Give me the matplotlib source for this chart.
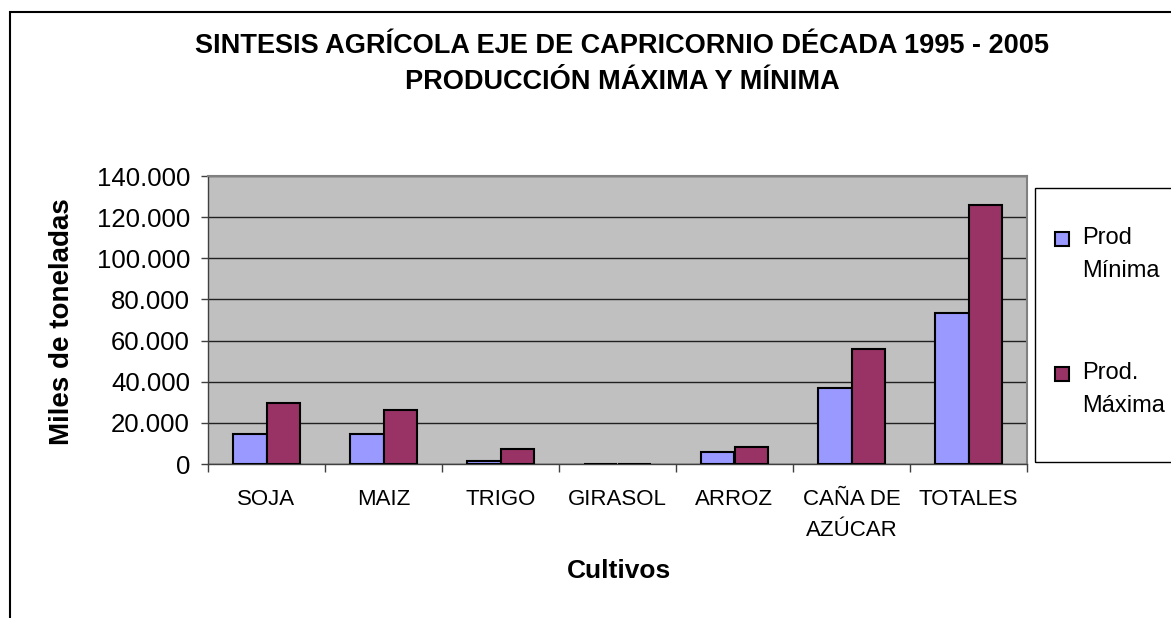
import matplotlib.pyplot as plt
import numpy as np
from matplotlib.patches import Rectangle

plt.rcParams["font.family"] = ["Liberation Sans", "DejaVu Sans"]

cultivos = ["SOJA", "MAIZ", "TRIGO", "GIRASOL", "ARROZ", "CAÑA DE\nAZÚCAR", "TOTALES"]
prod_minima = [14400, 14400, 1500, 0, 5800, 36800, 73600]
prod_maxima = [29800, 26200, 7100, 0, 8400, 55800, 125900]
series_names = ["Prod\nMínima", "Prod.\nMáxima"]
series_colors = ["#9999ff", "#993366"]
y_ticks = [0, 20000, 40000, 60000, 80000, 100000, 120000, 140000]
y_tick_labels = ["0", "20.000", "40.000", "60.000", "80.000", "100.000", "120.000", "140.000"]

W, H = 1171, 618


def main():
    fig = plt.figure(figsize=(W / 100, H / 100), dpi=100)
    ax = fig.add_axes([208 / W, 1 - 464 / H, (1027 - 208) / W, (464 - 176) / H])

    x = np.arange(len(cultivos))
    w = 0.283
    ax.bar(x - w / 2, prod_minima, w, color=series_colors[0], edgecolor="black",
           linewidth=1.5, zorder=3)
    ax.bar(x + w / 2, prod_maxima, w, color=series_colors[1], edgecolor="black",
           linewidth=1.5, zorder=3)

    ax.set_facecolor("#c0c0c0")
    ax.set_xlim(-0.5, len(cultivos) - 0.5)
    ax.set_ylim(0, 140000)
    ax.set_yticks(y_ticks)
    ax.set_yticklabels(y_tick_labels, fontsize=18.5)
    ax.yaxis.grid(True, color="#202020", linewidth=1, zorder=1)
    ax.set_axisbelow(True)

    ax.set_xticks(x)
    ax.set_xticklabels(cultivos, fontsize=16, linespacing=1.6)
    ax.set_xticks(np.arange(-0.5, len(cultivos)), minor=True)
    ax.tick_params(axis="x", which="major", length=0, pad=18)
    ax.tick_params(axis="x", which="minor", length=6, width=1, color="#404040")
    ax.tick_params(axis="y", length=5, width=1, color="#404040", pad=8)

    for side in ["top", "right"]:
        ax.spines[side].set_color("#808080")
        ax.spines[side].set_linewidth(1.5)
    for side in ["left", "bottom"]:
        ax.spines[side].set_color("#404040")
        ax.spines[side].set_linewidth(1)

    fig.text(62 / W, 1 - 322 / H, "Miles de toneladas", rotation=90,
             ha="center", va="center", fontsize=20, fontweight="bold")
    fig.text(619 / W, 1 - 571 / H, "Cultivos",
             ha="center", va="center", fontsize=19, fontweight="bold")

    fig.text(622 / W, 1 - 46 / H, "SINTESIS AGRÍCOLA EJE DE CAPRICORNIO DÉCADA 1995 - 2005",
             ha="center", va="center", fontsize=19.5, fontweight="bold")
    fig.text(622 / W, 1 - 82 / H, "PRODUCCIÓN MÁXIMA Y MÍNIMA",
             ha="center", va="center", fontsize=19.5, fontweight="bold")

    # outer chart border
    fig.add_artist(Rectangle((10 / W, -0.1), 1.2, 1 - 12 / H + 0.1,
                             transform=fig.transFigure, fill=False,
                             edgecolor="black", linewidth=1.5))
    # legend box and entries
    fig.add_artist(Rectangle((1035 / W, 1 - 462 / H), 0.2, (462 - 188) / H,
                             transform=fig.transFigure, fill=False,
                             edgecolor="black", linewidth=1))
    for i, (name, color) in enumerate(zip(series_names, series_colors)):
        y_top = 232 + i * 135
        fig.add_artist(Rectangle((1055 / W, 1 - (y_top + 14) / H), 14 / W, 14 / H,
                                 transform=fig.transFigure, facecolor=color,
                                 edgecolor="black", linewidth=1.5))
        fig.text(1082 / W, 1 - (y_top - 5) / H, name, ha="left", va="top",
                 fontsize=17, linespacing=1.62)

    fig.savefig("out.png", dpi=100)


if __name__ == "__main__":
    main()
